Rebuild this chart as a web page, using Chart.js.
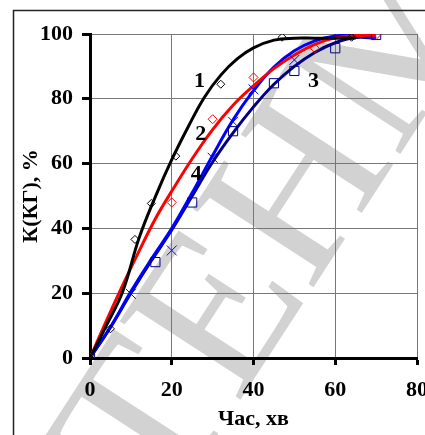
<!DOCTYPE html>
<html>
<head>
<meta charset="utf-8">
<script src="https://cdn.jsdelivr.net/npm/chart.js@4.4.1/dist/chart.umd.min.js"></script>
<style>
  html, body { margin: 0; padding: 0; background: #fff; overflow: hidden; }
  #wrap { width: 440px; height: 435px; }
</style>
</head>
<body>
<div id="wrap"><canvas id="chart" width="440" height="435"></canvas></div>
<script>
// measured points, time in minutes / conversion in %
const t1 = [0, 5, 11, 15, 21, 32, 47, 64];
const k1 = [0, 9, 36.6, 47.7, 62.3, 84.5, 99, 99];
const t2 = [0, 20, 30, 40, 55, 70];
const k2 = [0, 48, 73.7, 86.6, 95.6, 99.7];
const t3 = [0, 16, 25, 35, 45, 50, 60, 70];
const k3 = [0, 29.6, 48, 70, 84.8, 88.6, 95.6, 99.7];
const t4 = [0, 10, 20, 30, 35, 40, 50, 60];
const k4 = [0, 19.8, 33.2, 61.8, 72.9, 82.9, 92, 100];

// trend curves
const fitT1 = [0, 4, 8, 12, 16, 20, 24, 28, 32, 36, 40, 45, 50, 55, 60, 65];
const fitK1 = [0, 10, 20.5, 37, 49.8, 61.2, 71.3, 80.5, 87.3, 92.3, 95.7, 98.1, 98.7, 98.7, 98.7, 98.8];
const fitT2 = [0, 4, 8, 12, 16, 20, 25, 30, 35, 40, 45, 50, 55, 60, 65, 70];
const fitK2 = [0, 11.5, 22.5, 33, 43, 51.5, 61.5, 70.5, 78, 84, 89.3, 93.5, 96.8, 98.8, 99.5, 99.7];
const fitT3 = [0, 5, 10, 15, 20, 25, 30, 35, 40, 45, 50, 55, 60, 65, 70];
const fitK3 = [0, 9.5, 20, 30, 39.5, 50, 60.5, 69.5, 77.5, 84.5, 90, 94.3, 97.3, 98.9, 98.7];
const fitT4 = [0, 5, 10, 15, 20, 25, 30, 35, 40, 45, 50, 55, 60, 65, 70];
const fitK4 = [0, 9.5, 20.5, 30.5, 40, 51, 62.5, 73.5, 82.5, 89.8, 94.8, 97.9, 99.4, 99.5, 98.8];

// curve numbers
const curveNames = ['1', '2', '3', '4'];
const curveNameT = [26.8, 27.1, 54.7, 26];
const curveNameK = [85.5, 69, 85.5, 56.6];

const xTicks = [0, 20, 40, 60, 80];
const yTicks = [0, 20, 40, 60, 80, 100];

const serif = '"Liberation Serif", "Times New Roman", serif';
const toXY = (xs, ys) => xs.map((x, i) => ({ x: x, y: ys[i] }));

function marks(xs, ys, color, style, r) {
    return {
        data: toXY(xs, ys),
        showLine: false,
        pointStyle: style,
        pointRadius: r,
        pointBorderColor: color,
        pointBackgroundColor: 'rgba(0,0,0,0)',
        pointBorderWidth: 1,
    };
}

function curve(xs, ys, color) {
    return {
        data: toXY(xs, ys),
        showLine: true,
        borderColor: color,
        borderWidth: 3,
        pointRadius: 0,
        tension: 0.4,
    };
}

const background = {
    id: 'background',
    beforeDraw(chart) {
        const ctx = chart.ctx;
        ctx.save();
        ctx.fillStyle = '#fff';
        ctx.fillRect(0, 0, chart.width, chart.height);
        // grey stamp behind the plot
        ctx.translate(285, 225);
        ctx.rotate(-57 * Math.PI / 180);
        ctx.fillStyle = '#d2d2d2';
        ctx.font = '220px ' + serif;
        ctx.textAlign = 'center';
        ctx.textBaseline = 'middle';
        ctx.fillText('ТЕНМ', 0, 0);
        ctx.restore();
        // outer frame
        ctx.save();
        ctx.strokeStyle = '#222';
        ctx.lineWidth = 1.5;
        ctx.strokeRect(13.5, 10.5, 600, 600);
        ctx.restore();
    },
};

const curveLabels = {
    id: 'curveLabels',
    afterDatasetsDraw(chart) {
        const ctx = chart.ctx;
        const xs = chart.scales.x, ys = chart.scales.y;
        ctx.save();
        ctx.fillStyle = '#000';
        ctx.font = 'bold 22px ' + serif;
        ctx.textAlign = 'center';
        ctx.textBaseline = 'middle';
        curveNames.forEach((n, i) => {
            ctx.fillText(n, xs.getPixelForValue(curveNameT[i]), ys.getPixelForValue(curveNameK[i]));
        });
        ctx.restore();
    },
};

const axisFont = { family: serif, size: 22, weight: 'bold' };

new Chart(document.getElementById('chart'), {
    type: 'scatter',
    data: {
        datasets: [
            marks(t1, k1, '#000', 'rectRot', 4),
            marks(t2, k2, '#ff0000', 'rectRot', 4.5),
            marks(t3, k3, '#000080', 'rect', 6.5),
            marks(t4, k4, '#0000ff', 'crossRot', 7),
            curve(fitT1, fitK1, '#000'),
            curve(fitT2, fitK2, '#ff0000'),
            curve(fitT4, fitK4, '#0000ff'),
            curve(fitT3, fitK3, '#000080'),
        ],
    },
    options: {
        responsive: false,
        animation: false,
        events: [],
        layout: { padding: { left: 14, top: 34, right: 21, bottom: 0 } },
        plugins: { legend: { display: false }, tooltip: { enabled: false } },
        scales: {
            x: {
                type: 'linear',
                min: 0,
                max: 80,
                afterBuildTicks: s => { s.ticks = xTicks.map(v => ({ value: v })); },
                afterFit: s => { s.height = 77; },
                ticks: { font: axisFont, color: '#000', padding: 12, maxRotation: 0 },
                grid: { color: '#777', lineWidth: 1, tickLength: 7, tickColor: '#000', tickWidth: 3 },
                border: { color: '#000', width: 3 },
                title: { display: true, text: 'Час, хв', font: axisFont, color: '#000', padding: { top: 4, bottom: 2 } },
            },
            y: {
                min: 0,
                max: 100,
                afterBuildTicks: s => { s.ticks = yTicks.map(v => ({ value: v })); },
                afterFit: s => { s.width = 76; },
                ticks: { font: axisFont, color: '#000', padding: 9 },
                grid: { color: '#777', lineWidth: 1, tickLength: 8, tickColor: '#000', tickWidth: 3 },
                border: { color: '#000', width: 3 },
                title: { display: true, text: 'К(КГ), %', font: axisFont, color: '#000', padding: { top: 4, bottom: 4 } },
            },
        },
    },
    plugins: [background, curveLabels],
});
</script>
</body>
</html>
